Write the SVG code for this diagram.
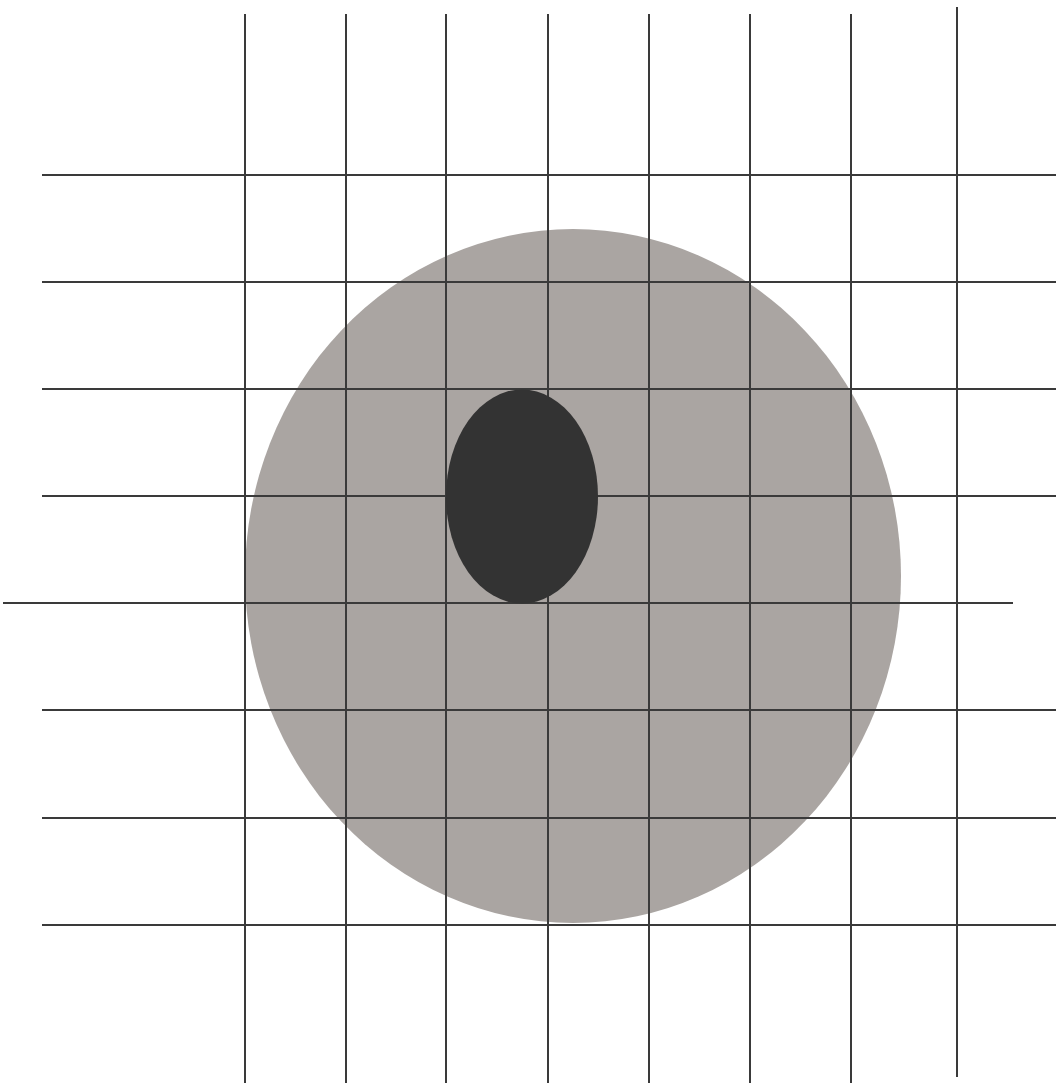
<svg xmlns="http://www.w3.org/2000/svg" width="1056" height="1083" viewBox="0 0 1056 1083">
<style>
.g{stroke:#3a3a3a;stroke-width:2;fill:none}
</style>
<rect width="1056" height="1083" fill="#ffffff"/>
<ellipse id="disc" cx="573" cy="576" rx="328" ry="347" fill="#aaa5a2"/>
<g id="grid" class="g">
<line x1="245" y1="14" x2="245" y2="1083"/>
<line x1="346" y1="14" x2="346" y2="1083"/>
<line x1="446" y1="14" x2="446" y2="1083"/>
<line x1="548" y1="14" x2="548" y2="1083"/>
<line x1="649" y1="14" x2="649" y2="1083"/>
<line x1="750" y1="14" x2="750" y2="1083"/>
<line x1="851" y1="14" x2="851" y2="1083"/>
<line x1="957" y1="7" x2="957" y2="1077"/>
<line x1="42" y1="175" x2="1056" y2="175"/>
<line x1="42" y1="282" x2="1056" y2="282"/>
<line x1="42" y1="389" x2="1056" y2="389"/>
<line x1="42" y1="496" x2="1056" y2="496"/>
<line x1="3" y1="603" x2="1013" y2="603"/>
<line x1="42" y1="710" x2="1056" y2="710"/>
<line x1="42" y1="818" x2="1056" y2="818"/>
<line x1="42" y1="925" x2="1056" y2="925"/>
</g>
<ellipse id="spot" cx="522" cy="496.5" rx="76" ry="107" fill="#333333"/>
</svg>
